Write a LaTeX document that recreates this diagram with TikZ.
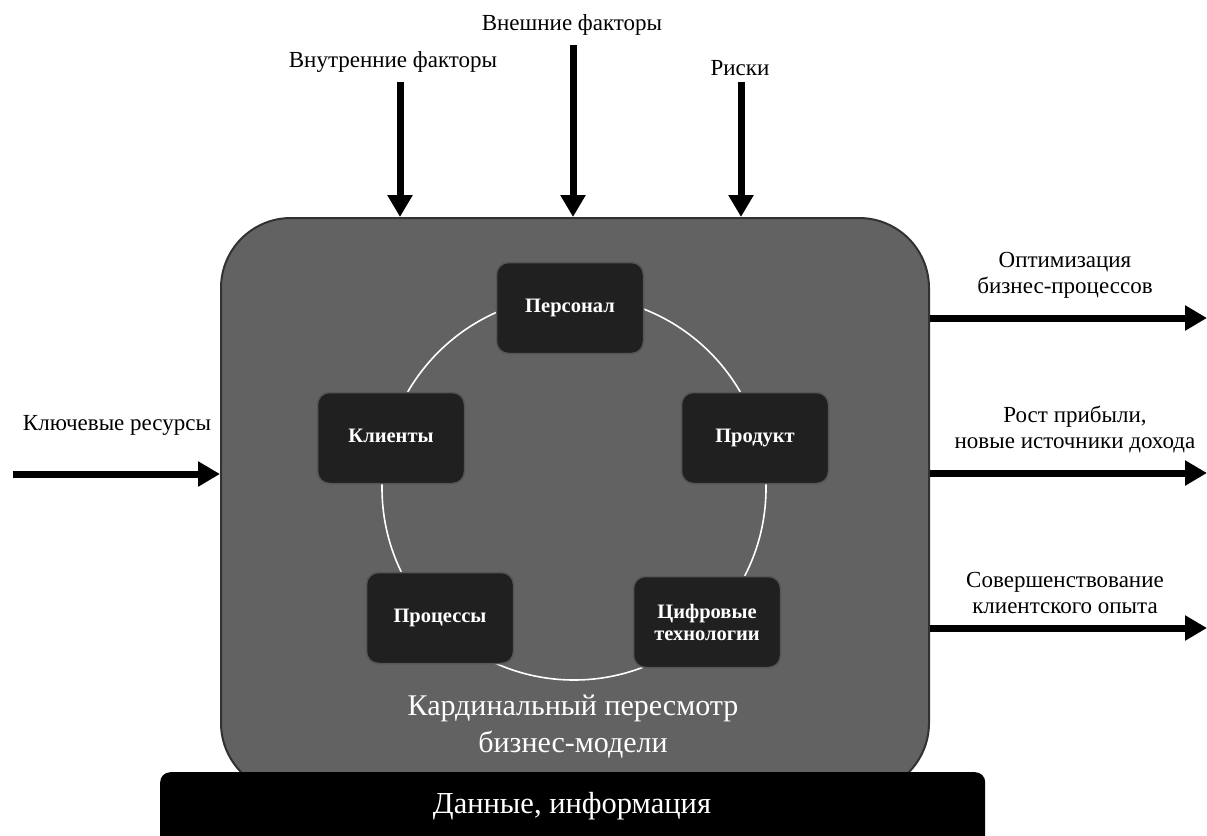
\documentclass[tikz,border=0pt]{standalone}
\usepackage{fontspec}
\setmainfont{Liberation Serif}
\usetikzlibrary{arrows.meta}
\definecolor{mainfill}{RGB}{98,98,98}
\definecolor{mainedge}{RGB}{50,50,50}
\definecolor{boxfill}{RGB}{32,32,32}
\definecolor{boxedge}{RGB}{85,85,85}
\tikzset{
  bigarrow/.style={line width=7pt,-{Triangle[length=22pt,width=24pt]}},
  lbl/.style={font=\fontsize{23}{26}\selectfont,align=center,inner sep=0pt},
  cyclebox/.style={rectangle,rounded corners=12pt,fill=boxfill,draw=boxedge,line width=1.5pt,
    minimum width=147pt,minimum height=91pt,text=white,align=center,
    font=\fontsize{20.5}{22}\selectfont\bfseries,inner sep=2pt},
  oneline/.style={text height=14pt,text depth=5pt},
}
\begin{document}
\begin{tikzpicture}[x={(1pt,0)},y={(0,-1pt)}]
\clip (0,0) rectangle (1207,835);
\fill[white] (0,0) rectangle (1207,835);
% main block
\node[rectangle,rounded corners=70pt,fill=mainfill,draw=mainedge,line width=2pt,
  minimum width=708pt,minimum height=575pt,anchor=north west] (main) at (220,217) {};
% cycle
\draw[white,line width=1.6pt] (574,488) circle[radius=192];
\node[cyclebox,oneline] (pers) at (570,308) {Персонал};
\node[cyclebox,oneline] (prod) at (755,438) {Продукт};
\node[cyclebox] (tech) at (707,622) {Цифровые\\технологии};
\node[cyclebox,oneline] (proc) at (440,618) {Процессы};
\node[cyclebox,oneline] (cli) at (391,438) {Клиенты};
\node[text=white,align=center,font=\fontsize{30}{37}\selectfont,inner sep=0pt] (title) at (573,727)
  {Кардинальный пересмотр\\бизнес-модели};
% data bar
\node[rectangle,rounded corners=10pt,fill=black,minimum width=825pt,minimum height=90pt,
  anchor=north west,inner sep=0pt] (data) at (160,772) {};
\node[text=white,font=\fontsize{30.5}{32}\selectfont,inner sep=0pt] (datatxt) at (572,806) {Данные, информация};
% top inputs
\node[lbl] (lint) at (393,62) {Внутренние факторы};
\node[lbl] (lext) at (572,25) {Внешние факторы};
\node[lbl] (lrisk) at (740,68) {Риски};
\coordinate (sint) at (400,82);
\coordinate (sext) at (573,45);
\coordinate (srisk) at (741,82);
\draw[bigarrow] (sint) -- (sint |- main.north);
\draw[bigarrow] (sext) -- (sext |- main.north);
\draw[bigarrow] (srisk) -- (srisk |- main.north);
% left input
\node[lbl] (lres) at (117,425) {Ключевые ресурсы};
\coordinate (sres) at (13,474);
\draw[bigarrow] (sres) -- (sres -| main.west);
% right outputs
\coordinate (e1) at (1207,318);
\coordinate (e2) at (1207,473);
\coordinate (e3) at (1207,628);
\draw[bigarrow] (e1 -| main.east) -- (e1);
\draw[bigarrow] (e2 -| main.east) -- (e2);
\draw[bigarrow] (e3 -| main.east) -- (e3);
\node[lbl] (lopt) at (1065,275) {Оптимизация\\бизнес-процессов};
\node[lbl] (lprof) at (1075,429) {Рост прибыли,\\новые источники дохода};
\node[lbl] (lcx) at (1065,593) {Совершенствование\\клиентского опыта};
\end{tikzpicture}
\end{document}
